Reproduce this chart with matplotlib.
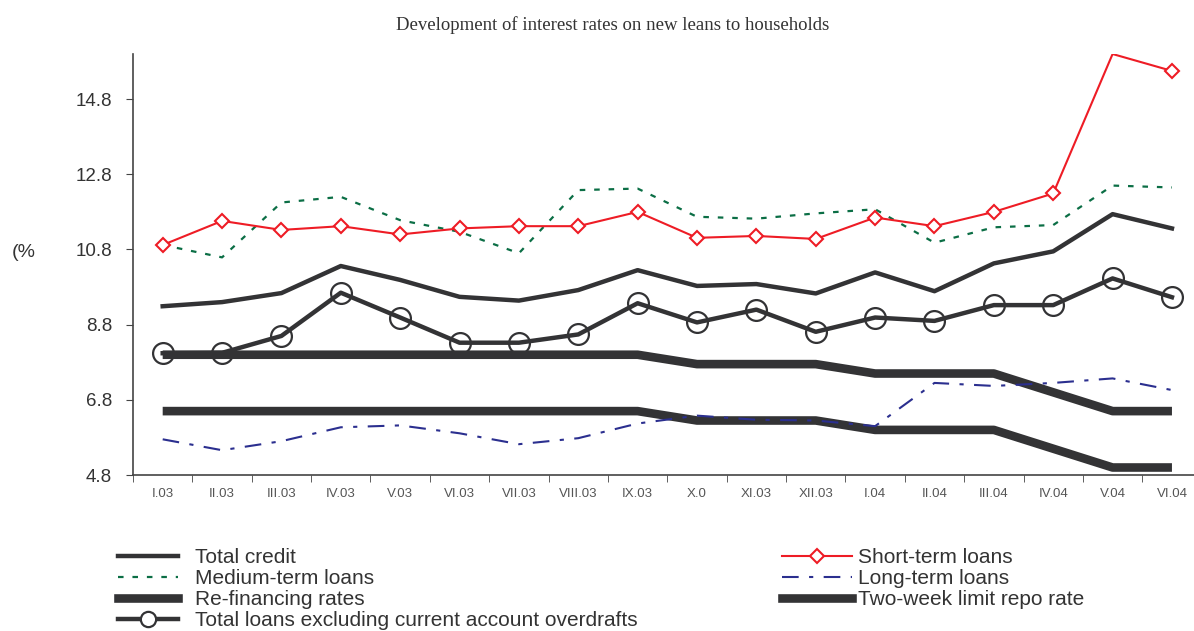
import matplotlib.pyplot as plt
from matplotlib.lines import Line2D

months = ['I.03', 'II.03', 'III.03', 'IV.03', 'V.03', 'VI.03', 'VII.03', 'VIII.03', 'IX.03',
          'X.0', 'XI.03', 'XII.03', 'I.04', 'II.04', 'III.04', 'IV.04', 'V.04', 'VI.04']

total_credit = [9.29, 9.40, 9.64, 10.36, 9.99, 9.54, 9.44, 9.72, 10.25,
                9.83, 9.88, 9.63, 10.19, 9.69, 10.43, 10.75, 11.74, 11.36]
short_term = [10.92, 11.56, 11.32, 11.42, 11.20, 11.36, 11.42, 11.42, 11.80,
              11.11, 11.16, 11.08, 11.65, 11.42, 11.80, 12.29, 16.00, 15.55]
medium_term = [10.92, 10.59, 12.05, 12.20, 11.58, 11.27, 10.70, 12.38, 12.42,
               11.67, 11.62, 11.76, 11.87, 10.98, 11.39, 11.45, 12.50, 12.45]
long_term = [5.75, 5.46, 5.70, 6.07, 6.12, 5.91, 5.62, 5.78, 6.17,
             6.38, 6.27, 6.25, 6.10, 7.25, 7.17, 7.25, 7.37, 7.06]
refinancing = [8.0, 8.0, 8.0, 8.0, 8.0, 8.0, 8.0, 8.0, 8.0,
               7.75, 7.75, 7.75, 7.5, 7.5, 7.5, 7.0, 6.5, 6.5]
repo_rate = [6.5, 6.5, 6.5, 6.5, 6.5, 6.5, 6.5, 6.5, 6.5,
             6.25, 6.25, 6.25, 6.0, 6.0, 6.0, 5.5, 5.0, 5.0]
total_excl_overdrafts = [8.04, 8.05, 8.50, 9.65, 8.99, 8.32, 8.32, 8.54, 9.37,
                         8.86, 9.20, 8.61, 8.99, 8.90, 9.32, 9.32, 10.03, 9.53]

yticks = [4.8, 6.8, 8.8, 10.8, 12.8, 14.8]

dark = '#333335'
x = list(range(len(months)))

fig = plt.figure(figsize=(11.94, 6.31), dpi=100)
ax = fig.add_axes([0.1114, 0.2472, 0.895, 0.6672])

ax.plot(x, refinancing, color=dark, lw=6.2, solid_capstyle='butt')
ax.plot(x, repo_rate, color=dark, lw=6.2, solid_capstyle='butt')
ax.plot(x, long_term, color='#2b2f8f', lw=1.5, dashes=(8, 5, 2, 5))
ax.plot(x, medium_term, color='#0b6e45', lw=1.6, dashes=(2.5, 4))
ax.plot(x, total_credit, color=dark, lw=3.2)
ax.plot(x, total_excl_overdrafts, color=dark, lw=3.2, marker='o', ms=15,
        mfc='none', mec=dark, mew=1.6)
marks = [i for i in x if i != 16]
ax.plot(x, short_term, color='#ee1c25', lw=1.5, marker='D', ms=7,
        mfc='white', mec='#ee1c25', mew=1.5, markevery=marks)

ax.set_xlim(-0.5, len(months) - 0.5)
ax.set_ylim(4.8, 16.0)
ax.set_yticks(yticks)
ax.set_yticklabels([f'{v:.1f}' for v in yticks], fontsize=13.5, color='#333333',
                   family='Liberation Sans')
ax.set_xticks(x)
ax.set_xticklabels(months, fontsize=9.5, color='#555555', family='Liberation Sans')
ax.set_xticks([i - 0.5 for i in range(len(months) + 1)], minor=True)
ax.tick_params(axis='x', which='major', length=0, pad=9)
ax.tick_params(axis='x', which='minor', length=5, direction='out', color='#444444')
ax.tick_params(axis='y', length=5, direction='out', color='#444444', pad=10)
for side in ['top', 'right']:
    ax.spines[side].set_visible(False)
for side in ['left', 'bottom']:
    ax.spines[side].set_color('#444444')
    ax.spines[side].set_linewidth(1.2)

fig.text(0.5134, 1 - 25 / 631, 'Development of interest rates on new leans to households',
         ha='center', va='center', fontsize=13.5, family='Liberation Serif', color='#333333')
fig.text(0.010, 1 - 253 / 631, '(%', ha='left', va='center', fontsize=14,
         family='Liberation Sans', color='#333333')

left_handles = [
    Line2D([], [], color=dark, lw=3.2),
    Line2D([], [], color='#0b6e45', lw=1.6, dashes=(2.5, 4)),
    Line2D([], [], color=dark, lw=6.2),
    Line2D([], [], color=dark, lw=3.2, marker='o', ms=11, mfc='white', mec=dark, mew=1.6),
]
left_labels = ['Total credit', 'Medium-term loans', 'Re-financing rates',
               'Total loans excluding current account overdrafts']
right_handles = [
    Line2D([], [], color='#ee1c25', lw=1.5, marker='D', ms=7, mfc='white', mec='#ee1c25', mew=1.5),
    Line2D([], [], color='#2b2f8f', lw=1.5, dashes=(8, 5, 2, 5)),
    Line2D([], [], color=dark, lw=6.2),
]
right_labels = ['Short-term loans', 'Long-term loans', 'Two-week limit repo rate']

leg_kw = dict(frameon=False, labelspacing=0.1, borderpad=0, borderaxespad=0,
              prop={'family': 'Liberation Sans', 'size': 15})
l1 = fig.legend(left_handles, left_labels, loc='upper left', handlelength=2.9,
                handletextpad=0.8, bbox_to_anchor=(118 / 1194, 1 - 548 / 631), **leg_kw)
l2 = fig.legend(right_handles, right_labels, loc='upper left', handlelength=3.35,
                handletextpad=0.28, bbox_to_anchor=(782 / 1194, 1 - 548 / 631), **leg_kw)
for lg in (l1, l2):
    for t in lg.get_texts():
        t.set_color('#333333')

fig.savefig('out.png', dpi=100)
